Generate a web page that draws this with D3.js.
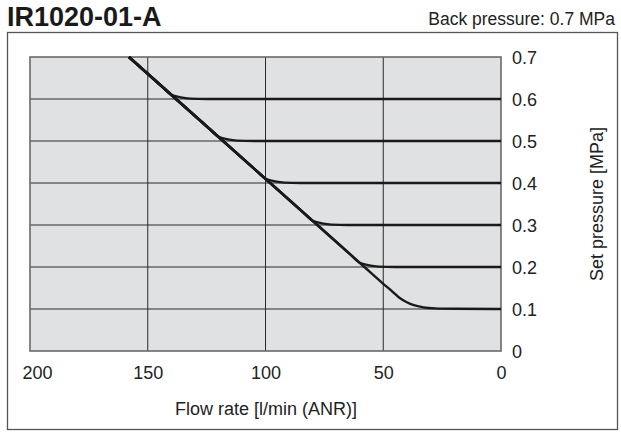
<!DOCTYPE html>
<html>
<head>
<meta charset="utf-8">
<script src="https://cdn.jsdelivr.net/npm/d3@7"></script>
<style>
  html, body { margin: 0; padding: 0; background: #fff; }
  svg { display: block; }
  text { font-family: "Liberation Sans", Arial, Helvetica, sans-serif; fill: #222; }
</style>
</head>
<body>
<svg id="chart" width="621" height="433"></svg>
<script>
// ---- data ----
const chartTitle = "IR1020-01-A";
const backPressureNote = "Back pressure: 0.7 MPa";
const xAxisTitle = "Flow rate [l/min (ANR)]";
const yAxisTitle = "Set pressure [MPa]";
const flowTicks = [200, 150, 100, 50, 0];
const pressureTicks = [0, 0.1, 0.2, 0.3, 0.4, 0.5, 0.6, 0.7];

// each curve: [flow l/min, pressure MPa], ordered from high flow to low flow
const curve06 = [[158,0.7],[144,0.63],[140,0.61],[136,0.604],[132,0.601],[125,0.6],[0,0.6]];
const curve05 = [[158,0.7],[138,0.6],[124,0.53],[120,0.51],[116,0.504],[112,0.501],[105,0.5],[0,0.5]];
const curve04 = [[158,0.7],[138,0.6],[118,0.5],[104,0.43],[100,0.41],[96,0.404],[92,0.401],[85,0.4],[0,0.4]];
const curve03 = [[158,0.7],[138,0.6],[118,0.5],[98,0.4],[84,0.33],[80,0.31],[76,0.304],[72,0.301],[65,0.3],[0,0.3]];
const curve02 = [[158,0.7],[138,0.6],[118,0.5],[98,0.4],[78,0.3],[64,0.23],[60,0.21],[56,0.204],[52,0.201],[45,0.2],[0,0.2]];
const curve01 = [[158,0.7],[138,0.6],[118,0.5],[98,0.4],[78,0.3],[58,0.2],[50,0.16],[46,0.141],[43,0.126],[40,0.116],[37,0.109],[33,0.104],[28,0.1015],[20,0.1005],[0,0.1]];
const curves = [curve06, curve05, curve04, curve03, curve02, curve01];

// ---- layout ----
const svg = d3.select("#chart");
const plot = { left: 30, right: 501, top: 57, bottom: 351 };

const x = d3.scaleLinear().domain([200, 0]).range([plot.left, plot.right]);
const y = d3.scaleLinear().domain([0, 0.7]).range([plot.bottom, plot.top]);

// title + note
svg.append("text")
  .attr("x", 7).attr("y", 26)
  .style("font-size", "27px").style("font-weight", "bold")
  .style("fill", "#1a1a1a")
  .text(chartTitle);
svg.append("text")
  .attr("x", 615).attr("y", 25)
  .attr("text-anchor", "end")
  .style("font-size", "17.5px")
  .text(backPressureNote);

// outer frame
svg.append("rect")
  .attr("x", 7.5).attr("y", 32.5)
  .attr("width", 610).attr("height", 397)
  .attr("fill", "none").attr("stroke", "#555").attr("stroke-width", 1.3);

// plot background
svg.append("rect")
  .attr("x", plot.left).attr("y", plot.top)
  .attr("width", plot.right - plot.left).attr("height", plot.bottom - plot.top)
  .attr("fill", "#e0e1e3");

// gridlines
const grid = svg.append("g");
grid.selectAll("line.v")
  .data(flowTicks.filter(d => d !== 200 && d !== 0))
  .join("line").attr("class", "v")
  .attr("x1", d => x(d)).attr("x2", d => x(d))
  .attr("y1", plot.top).attr("y2", plot.bottom)
  .attr("stroke", "#2a2a2a").attr("stroke-width", 1);
grid.selectAll("line.h")
  .data(pressureTicks.filter(d => d !== 0 && d !== 0.7))
  .join("line").attr("class", "h")
  .attr("x1", plot.left).attr("x2", plot.right)
  .attr("y1", d => y(d)).attr("y2", d => y(d))
  .attr("stroke", "#2a2a2a").attr("stroke-width", 1);

// plot border
svg.append("rect")
  .attr("x", plot.left).attr("y", plot.top)
  .attr("width", plot.right - plot.left).attr("height", plot.bottom - plot.top)
  .attr("fill", "none").attr("stroke", "#6a6a6a").attr("stroke-width", 1.6);

// curves
const line = d3.line()
  .x(d => x(d[0])).y(d => y(d[1]))
  .curve(d3.curveMonotoneX);
svg.append("g").selectAll("path")
  .data(curves)
  .join("path")
  .attr("d", line)
  .attr("fill", "none")
  .attr("stroke", "#1a1a1a")
  .attr("stroke-width", 2.4)
  .attr("stroke-linejoin", "round");

// x axis
const xAxis = d3.axisBottom(x).tickValues(flowTicks).tickSize(0).tickFormat(d3.format("d"));
const gx = svg.append("g").attr("transform", `translate(0,${plot.bottom})`).call(xAxis);
gx.select(".domain").remove();
gx.selectAll(".tick text")
  .attr("y", 28).attr("dy", null)
  .attr("dx", d => d === 200 ? 7 : 0)
  .style("font-size", "18px").style("font-family", "'Liberation Sans', Arial, sans-serif")
  .attr("fill", "#222");

// y axis (right side)
const yAxis = d3.axisRight(y).tickValues(pressureTicks).tickSize(0)
  .tickFormat(d => d === 0 ? "0" : d3.format(".1f")(d));
const gy = svg.append("g").attr("transform", `translate(${plot.right},0)`).call(yAxis);
gy.select(".domain").remove();
gy.selectAll(".tick text")
  .attr("x", 11).attr("dy", "0.35em")
  .style("font-size", "18px").style("font-family", "'Liberation Sans', Arial, sans-serif")
  .attr("fill", "#222");

// axis titles
svg.append("text")
  .attr("x", 266).attr("y", 415)
  .attr("text-anchor", "middle")
  .style("font-size", "18px")
  .text(xAxisTitle);
svg.append("text")
  .attr("transform", `translate(603,${(plot.top + plot.bottom) / 2}) rotate(-90)`)
  .attr("text-anchor", "middle")
  .style("font-size", "18px")
  .text(yAxisTitle);
</script>
</body>
</html>
